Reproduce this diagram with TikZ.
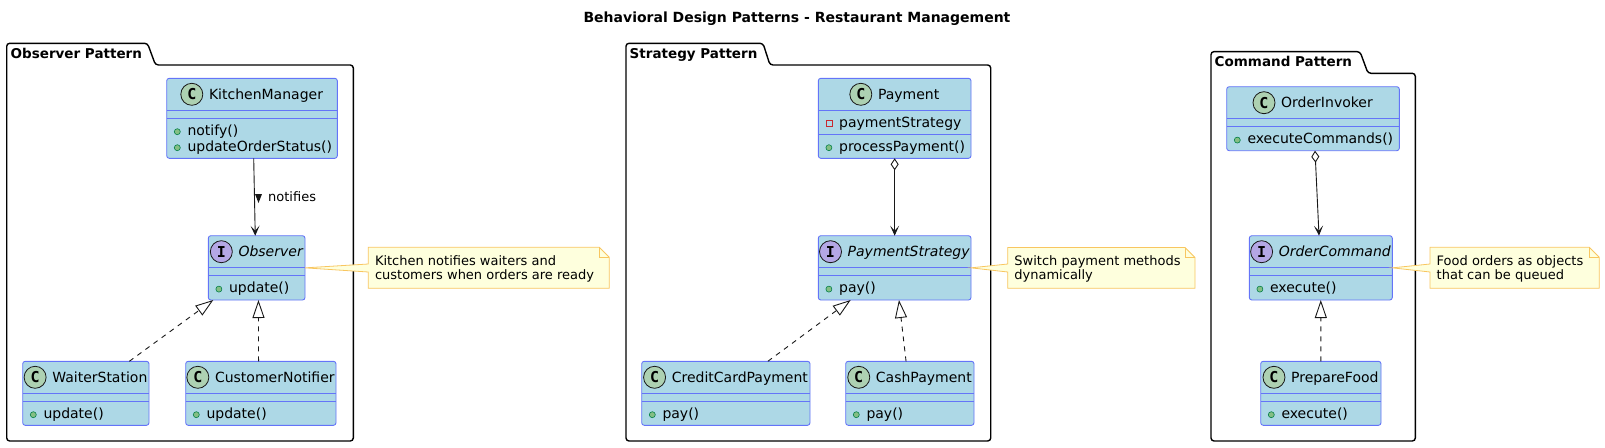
\documentclass[tikz,border=0pt]{standalone}
\usepackage{fontspec}
\setmainfont{DejaVu Sans}
\newfontfamily\monofam{DejaVu Sans Mono}
\usetikzlibrary{arrows.meta,calc}

\definecolor{clsfill}{HTML}{ADD8E6}
\definecolor{clsdraw}{HTML}{6474F8}
\definecolor{cgreen}{HTML}{ADD1B2}
\definecolor{ipurple}{HTML}{B4A7E5}
\definecolor{pubfill}{HTML}{84BE84}
\definecolor{pubdraw}{HTML}{038048}
\definecolor{privdraw}{HTML}{C82930}
\definecolor{notefill}{HTML}{FEFFDD}
\definecolor{notedraw}{HTML}{F8C660}
\definecolor{linecol}{HTML}{181818}

\tikzset{
  clsbox/.style={draw=clsdraw, fill=clsfill, line width=0.9pt, rounded corners=2.5pt, inner sep=0pt, outer sep=0pt},
  clsname/.style={font=\fontsize{14}{16}\selectfont, inner sep=0pt, anchor=base, text=black},
  member/.style={font=\fontsize{14}{16}\selectfont, inner sep=0pt, anchor=base west, text=black},
  stc/.style={circle, draw=linecol, line width=0.8pt, minimum size=22pt, inner sep=0pt, font=\monofam\bfseries\fontsize{15}{15}\selectfont},
  pub/.style={circle, draw=pubdraw, fill=pubfill, line width=0.6pt, minimum size=6pt, inner sep=0pt},
  priv/.style={rectangle, draw=privdraw, line width=0.8pt, minimum size=6pt, inner sep=0pt},
  divider/.style={draw=clsdraw, line width=0.9pt},
  pkg/.style={draw=black, line width=1.4pt, rounded corners=3pt},
  pkgname/.style={font=\bfseries\fontsize{13.5}{15}\selectfont, inner sep=0pt, anchor=base west},
  notebox/.style={draw=notedraw, fill=notefill, line width=0.8pt},
  notetext/.style={font=\fontsize{13}{14.5}\selectfont, inner sep=0pt, anchor=north west, align=left},
  rel/.style={draw=linecol, line width=0.9pt},
  assoc/.style={rel, -{Stealth[length=10pt,width=9pt,inset=5pt]}},
  agg/.style={rel, {Diamond[fill=white,length=12pt,width=8pt]}-{Stealth[length=10pt,width=9pt,inset=5pt]}},
  real/.style={rel, dash pattern=on 5pt off 5pt, -{Triangle[fill=white,length=18pt,width=12pt]}},
}

% class box: id, x1, x2, top, bottom, letter, circle colour, name
\newcommand\UClass[8]{%
  \node[clsbox, minimum width={(#3-#2)*1pt}, minimum height={(#5-#4)*1pt}] (#1) at ({(#2+#3)/2},{(#4+#5)/2}) {};
  \node[clsname] (#1-name) at ({(#2+#3)/2+14},{#4+21}) {#8};
  \node[stc, fill=#7] (#1-st) at ($(#1-name.base west)+(-17,-5)$) {#6};
}
% dividers: x1, x2, y1, y2
\newcommand\Dividers[4]{%
  \draw[divider] (#1,#3) -- (#2,#3);
  \draw[divider] (#1,#4) -- (#2,#4);
}
% member: id, x1, baseline, icon style, text
\newcommand\Member[5]{%
  \node[#4] (#1-i) at ({#2+10.6},{#3-3.6}) {};
  \node[member] (#1) at ({#2+20.6},#3) {#5};
}
% note: id, x1, x2, y1, y2, tip node, text
\newcommand\UNote[7]{%
  \draw[notebox] (#2,#4) -- ({#3-10},#4) -- (#3,{#4+10}) -- (#3,#5) -- (#2,#5) -- (#2,272) -- (#6) -- (#2,264) -- cycle;
  \draw[notebox, fill=none] ({#3-10},#4) -- ({#3-10},{#4+10}) -- (#3,{#4+10});
  \node[notetext] (#1) at ({#2+6.5},{#4+7.7}) {\rule{0pt}{10pt}#7};
}

\begin{document}
\begin{tikzpicture}[x=1pt,y=-1pt]
\useasboundingbox (0,0) rectangle (1605,447);

% title
\node[font=\bfseries\fontsize{14}{16}\selectfont, inner sep=0pt, anchor=base] (title) at (797,22.3) {Behavioral Design Patterns - Restaurant Management};

% packages
\draw[pkg] (6.7,441) -- (6.7,43.3) -- (147.5,43.3) -- (155.5,65) -- (353.3,65) -- (353.3,441) -- cycle;
\node[pkgname] (pkgobs) at (10.5,58.3) {Observer Pattern};
\draw[pkg] (626,441) -- (626,43.3) -- (763,43.3) -- (770,65) -- (990.7,65) -- (990.7,441) -- cycle;
\node[pkgname] (pkgstr) at (629.5,58.3) {Strategy Pattern};
\draw[pkg] (1211,441) -- (1211,51.6) -- (1360,51.6) -- (1368,73.3) -- (1415.3,73.3) -- (1415.3,441) -- cycle;
\node[pkgname] (pkgcmd) at (1214.5,66.6) {Command Pattern};

% ---------- Observer pattern ----------
\UClass{km}{166.7}{337.3}{78.3}{158.3}{C}{cgreen}{KitchenManager}
\Dividers{166.7}{337.3}{110.3}{118.3}
\Member{km-m1}{166.7}{135.3}{pub}{notify()}
\Member{km-m2}{166.7}{151.3}{pub}{updateOrderStatus()}

\UClass{obs}{208.3}{305}{235.7}{300}{I}{ipurple}{\itshape Observer}
\Dividers{208.3}{305}{267.7}{275.7}
\Member{obs-m1}{208.3}{292.7}{pub}{update()}

\UClass{ws}{22.7}{149}{361.3}{425.3}{C}{cgreen}{WaiterStation}
\Dividers{22.7}{149}{393.3}{401.3}
\Member{ws-m1}{22.7}{418.3}{pub}{update()}

\UClass{cn}{185.7}{336}{361.3}{425.3}{C}{cgreen}{CustomerNotifier}
\Dividers{185.7}{336}{393.3}{401.3}
\Member{cn-m1}{185.7}{418.3}{pub}{update()}

\draw[assoc] ([xshift=1.7]km.south) -- ([xshift=-1.4]obs.north);
\fill[linecol] (255,194) -- (262,194) -- (258.5,203) -- cycle;
\node[font=\fontsize{13}{15}\selectfont, inner sep=0pt, anchor=base west] (lblnotifies) at (268,201.7) {notifies};
\draw[real] ([xshift=-19.7]ws.north east) -- ([xshift=5]obs.south west);
\draw[real] ([xshift=-2.3]cn.north) -- ([xshift=1.8]obs.south);

\UNote{note1}{368.3}{609.3}{247.3}{288.3}{obs.east}{Kitchen notifies waiters and\\customers when orders are ready}

% ---------- Strategy pattern ----------
\UClass{pay}{818.3}{971}{78.3}{158.3}{C}{cgreen}{Payment}
\draw[divider] (818.3,110.3) -- (971,110.3);
\Member{pay-a1}{818.3}{127.3}{priv}{paymentStrategy}
\draw[divider] (818.3,134.3) -- (971,134.3);
\Member{pay-m1}{818.3}{151.3}{pub}{processPayment()}

\UClass{ps}{818.3}{971}{235.7}{300}{I}{ipurple}{\itshape PaymentStrategy}
\Dividers{818.3}{971}{267.7}{275.7}
\Member{ps-m1}{818.3}{292.7}{pub}{pay()}

\UClass{cc}{641.7}{810}{361.3}{425.3}{C}{cgreen}{CreditCardPayment}
\Dividers{641.7}{810}{393.3}{401.3}
\Member{cc-m1}{641.7}{418.3}{pub}{pay()}

\UClass{cash}{845.7}{974}{361.3}{425.3}{C}{cgreen}{CashPayment}
\Dividers{845.7}{974}{393.3}{401.3}
\Member{cash-m1}{845.7}{418.3}{pub}{pay()}

\draw[agg] (pay.south) -- (ps.north);
\draw[real] ([xshift=42]cc.north) -- ([xshift=32.4]ps.south west);
\draw[real] ([xshift=-3.8]cash.north) -- ([xshift=4.3]ps.south);

\UNote{note2}{1007.7}{1195}{247.5}{288.3}{ps.east}{Switch payment methods\\dynamically}

% ---------- Command pattern ----------
\UClass{oi}{1226.7}{1399.3}{86.7}{150.7}{C}{cgreen}{OrderInvoker}
\Dividers{1226.7}{1399.3}{118.7}{126.7}
\Member{oi-m1}{1226.7}{143.7}{pub}{executeCommands()}

\UClass{oc}{1249.3}{1392.3}{235.7}{300}{I}{ipurple}{\itshape OrderCommand}
\Dividers{1249.3}{1392.3}{267.7}{275.7}
\Member{oc-m1}{1249.3}{292.7}{pub}{execute()}

\UClass{pf}{1260.7}{1381}{361.3}{425.3}{C}{cgreen}{PrepareFood}
\Dividers{1260.7}{1381}{393.3}{401.3}
\Member{pf-m1}{1260.7}{418.3}{pub}{execute()}

\draw[agg] ([xshift=2]oi.south) -- ([xshift=-1.8]oc.north);
\draw[real] (pf.north) -- (oc.south);

\UNote{note3}{1430}{1599.3}{247.3}{288.3}{oc.east}{Food orders as objects\\that can be queued}
\end{tikzpicture}
\end{document}
